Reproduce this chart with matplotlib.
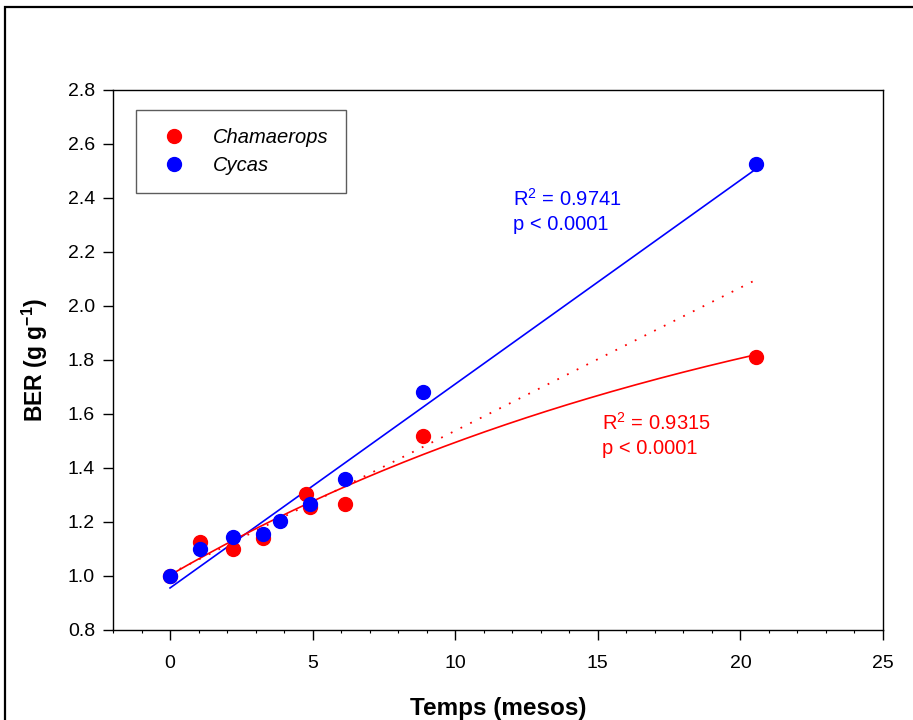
import numpy as np
import matplotlib
matplotlib.use("Agg")
import matplotlib.pyplot as plt
from matplotlib.patches import Rectangle
from matplotlib.ticker import MultipleLocator, FormatStrFormatter

plt.rcParams['font.family'] = ['Liberation Sans', 'DejaVu Sans']
plt.rcParams['mathtext.fontset'] = 'custom'
plt.rcParams['mathtext.rm'] = 'Liberation Sans'
plt.rcParams['mathtext.bf'] = 'Liberation Sans:bold'

# Data
cham_x = [0.0, 1.05, 2.2, 3.27, 4.75, 4.9, 6.14, 8.88, 20.56]
cham_y = [1.0, 1.127, 1.10, 1.141, 1.305, 1.257, 1.268, 1.519, 1.811]
cycas_x = [0.0, 1.05, 2.2, 3.27, 3.84, 4.9, 6.14, 8.88, 20.56]
cycas_y = [1.0, 1.10, 1.146, 1.157, 1.205, 1.268, 1.358, 1.681, 2.526]

labels = ["Chamaerops", "Cycas"]
colors = ["#ff0000", "#0000ff"]
cham_stats = ["R$^2$ = 0.9315", "p < 0.0001"]
cycas_stats = ["R$^2$ = 0.9741", "p < 0.0001"]

cx = np.array(cham_x); cy = np.array(cham_y)
yx = np.array(cycas_x); yy = np.array(cycas_y)

fig = plt.figure(figsize=(9.13, 7.2), dpi=100)
ax = fig.add_axes([113/913, 90/720, 770/913, 540/720])

# outer frame
fig.patches.append(Rectangle((5/913, -0.1), 1.2, (720-7)/720 + 0.1,
                             transform=fig.transFigure, fill=False,
                             edgecolor='black', linewidth=1.6, clip_on=False))

# Fits
xs = np.linspace(0, cx.max(), 200)
# Cycas: linear fit
b1, b0 = np.polyfit(yx, yy, 1)
ax.plot(xs, b0 + b1 * xs, color=colors[1], lw=1.2, zorder=2)

# Chamaerops: exponential rise to max y = y0 + a(1-exp(-b x))
best = None
for b in np.linspace(0.001, 0.5, 5000):
    A = np.column_stack([np.ones_like(cx), 1 - np.exp(-b * cx)])
    coef, *_ = np.linalg.lstsq(A, cy, rcond=None)
    sse = np.sum((A @ coef - cy) ** 2)
    if best is None or sse < best[0]:
        best = (sse, b, coef)
_, bb, (y0, aa) = best
ax.plot(xs, y0 + aa * (1 - np.exp(-bb * xs)), color=colors[0], lw=1.2, zorder=2)

# Chamaerops: linear fit of early points, extrapolated (dotted)
m1, m0 = np.polyfit(cx[:-1], cy[:-1], 1)
ax.plot(xs, m0 + m1 * xs, color=colors[0], lw=1.3, ls=(0, (1, 5)), zorder=2)

ax.plot(cx, cy, 'o', color=colors[0], ms=10, mec=colors[0], label=labels[0], zorder=3)
ax.plot(yx, yy, 'o', color=colors[1], ms=10, mec=colors[1], label=labels[1], zorder=4)

ax.set_xlim(-2, 25)
ax.set_ylim(0.8, 2.8)
ax.xaxis.set_major_locator(MultipleLocator(5))
ax.xaxis.set_minor_locator(MultipleLocator(1))
ax.yaxis.set_major_locator(MultipleLocator(0.2))
ax.yaxis.set_major_formatter(FormatStrFormatter('%.1f'))
ax.tick_params(axis='x', which='major', direction='out', length=7, width=1, pad=11, labelsize=14)
ax.tick_params(axis='x', which='minor', direction='out', length=2.5, width=0.8)
ax.tick_params(axis='y', which='major', direction='out', length=7, width=1, pad=6, labelsize=14)
for s in ax.spines.values():
    s.set_linewidth(1.0)

ax.set_xlabel("Temps (mesos)", fontsize=17.5, fontweight='bold', labelpad=18)
ax.set_ylabel("BER (g g$^{\\mathbf{-1}}$)", fontsize=16.5, fontweight='bold', labelpad=13)

leg = ax.legend(loc='upper left', bbox_to_anchor=(23/770, 520/540), frameon=True,
                fancybox=False, edgecolor='#333333', prop={'style': 'italic', 'size': 14.5},
                handlelength=2.0, handletextpad=0.9, borderpad=0.9, labelspacing=0.45,
                borderaxespad=0, numpoints=1)
leg.get_frame().set_linewidth(1.0)
leg.set_zorder(5)

def x2d(px):
    return -2 + (px - 113) / 770 * 27

def y2d(py):
    return 0.8 + (630 - py) / 540 * 2.0

ax.text(x2d(513), y2d(199), cycas_stats[0], color=colors[1], fontsize=14.5, va='center', ha='left')
ax.text(x2d(513), y2d(224), cycas_stats[1], color=colors[1], fontsize=14.5, va='center', ha='left')
ax.text(x2d(602), y2d(423), cham_stats[0], color=colors[0], fontsize=14.5, va='center', ha='left')
ax.text(x2d(602), y2d(449), cham_stats[1], color=colors[0], fontsize=14.5, va='center', ha='left')

fig.savefig("out.png", dpi=100)
